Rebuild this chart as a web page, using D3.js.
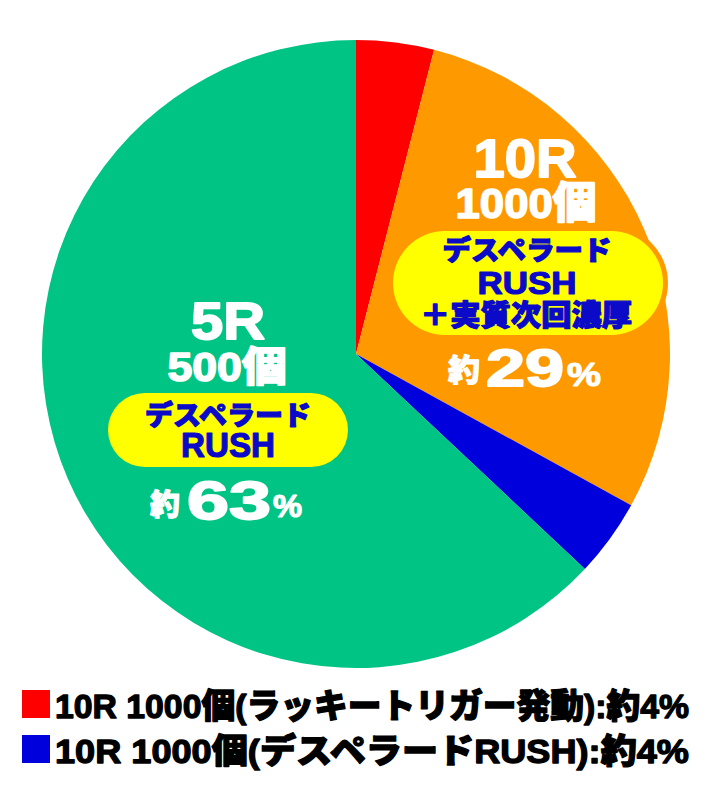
<!DOCTYPE html>
<html><head><meta charset="utf-8">
<script src="https://cdn.jsdelivr.net/npm/d3@7"></script>
<style>
html,body{margin:0;padding:0;background:#fff;}
svg{display:block;}
text{font-family:"Liberation Sans","Noto Sans CJK JP",sans-serif;font-weight:900;}
</style></head>
<body>
<script>
// ---- data ----
const categories = ["10R 1000個(ラッキートリガー発動)", "10R 1000個(デスペラードRUSH+実質次回濃厚)", "10R 1000個(デスペラードRUSH)", "5R 500個(デスペラードRUSH)"];
const values = [4, 29, 4, 63];
const colors = ["#FF0000", "#FF9900", "#0000DC", "#00C483"];
const legendLabels = ["10R 1000個(ラッキートリガー発動):約4%", "10R 1000個(デスペラードRUSH):約4%"];
const legendColors = ["#FF0000", "#0000DC"];
const orangeLabel = ["10R", "1000個", "デスペラード", "RUSH", "＋実質次回濃厚", "約", "29", "%"];
const greenLabel = ["5R", "500個", "デスペラード", "RUSH", "約", "63", "%"];

const W = 712, H = 808;
const svg = d3.select("body").append("svg").attr("width", W).attr("height", H);

const cx = 356, cy = 354, r = 314;
const pie = d3.pie().sort(null).value(d => d)(values);
const arc = d3.arc().innerRadius(0).outerRadius(r);
const g = svg.append("g").attr("transform", `translate(${cx},${cy})`);
g.selectAll("path").data(pie).join("path")
  .attr("d", arc).attr("fill", (d, i) => colors[i]);

const BLUE = "#0A0AC8";

function pill(x0, y0, x1, y1, rad, border) {
  svg.append("rect").attr("x", x0 - 5).attr("y", y0 - 5)
    .attr("width", x1 - x0 + 10).attr("height", y1 - y0 + 10).attr("rx", rad + 5)
    .attr("fill", border);
  svg.append("rect").attr("x", x0).attr("y", y0)
    .attr("width", x1 - x0).attr("height", y1 - y0).attr("rx", rad)
    .attr("fill", "#FFFF00");
}
function txt(s, x, y, size, len, color, anchor, sw) {
  const t = svg.append("text").text(s)
    .attr("x", x).attr("y", y).attr("font-size", size)
    .attr("text-anchor", anchor || "middle")
    .attr("fill", color);
  if (len) t.attr("textLength", len).attr("lengthAdjust", "spacingAndGlyphs");
  if (sw) t.attr("stroke", color).attr("stroke-width", sw).attr("stroke-linejoin", "round");
  return t;
}

// orange slice labels
pill(393, 231, 663, 335, 52, colors[1]);
txt(orangeLabel[0], 525, 177, 54, 103, "#fff", "middle", 1.8);
txt(orangeLabel[1], 526, 218, 43, 141, "#fff", "middle", 1.6);
txt(orangeLabel[2], 527, 260, 27, 169, BLUE, "middle", 1.2);
txt(orangeLabel[3], 527, 294, 32, 99, BLUE, "middle", 1.2);
txt(orangeLabel[4], 526, 326, 29, 212, BLUE, "middle", 1.2);
txt(orangeLabel[5], 448, 381, 31, 32, "#fff", "start", 1);
txt(orangeLabel[6], 486, 386, 51, 78, "#fff", "start", 1.8);
txt(orangeLabel[7], 567, 386, 33, 34, "#fff", "start", 1.2);

// green slice labels
pill(108, 393, 348, 467, 37, colors[3]);
txt(greenLabel[0], 228, 339, 51, 74, "#fff", "middle", 1.8);
txt(greenLabel[1], 227, 381, 41, 119, "#fff", "middle", 1.6);
txt(greenLabel[2], 228, 425, 27, 166, BLUE, "middle", 1.2);
txt(greenLabel[3], 228, 457, 35, 94, BLUE, "middle", 1.2);
txt(greenLabel[4], 150, 515, 30, 30, "#fff", "start", 1);
txt(greenLabel[5], 187, 519, 54, 84, "#fff", "start", 1.8);
txt(greenLabel[6], 273, 517, 31, 29, "#fff", "start", 1.2);

// legend
const lg = svg.append("g");
legendLabels.forEach((lab, i) => {
  const y = 690 + i * 45;
  lg.append("rect").attr("x", 22).attr("y", y).attr("width", 28).attr("height", 28).attr("fill", legendColors[i]);
  txt(lab, 55, y + 28, 34, 634, "#000", "start", 1.3);
});
</script>
</body></html>
